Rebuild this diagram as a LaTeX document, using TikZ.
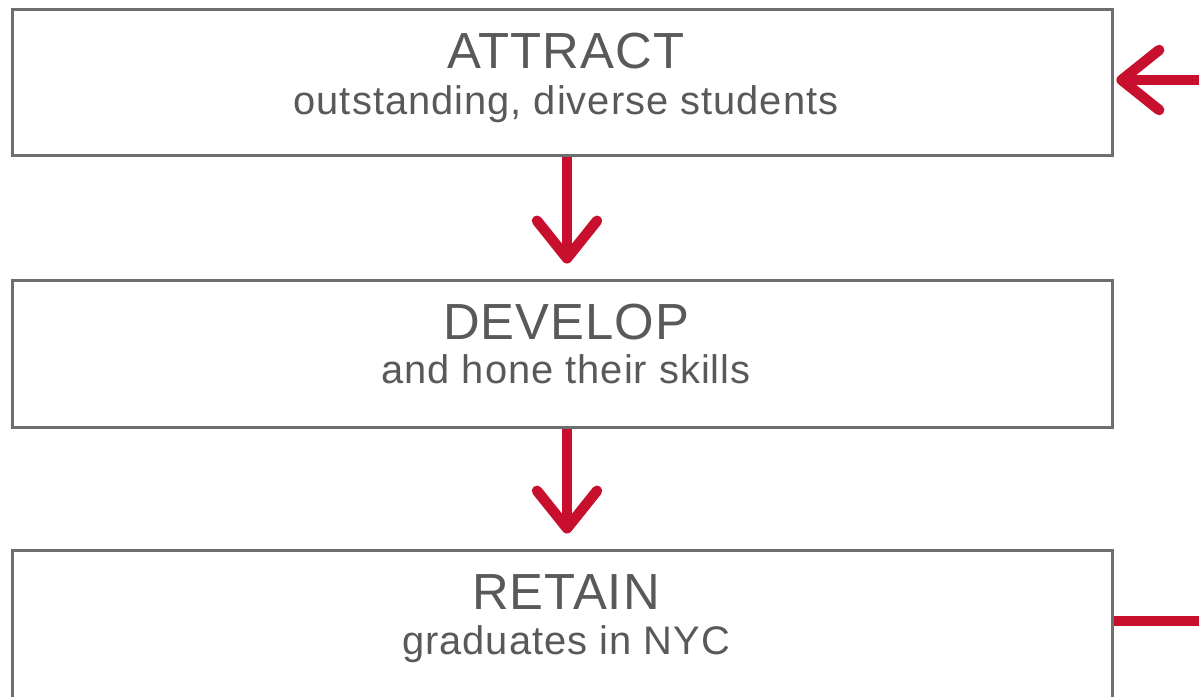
\documentclass[tikz,border=0pt]{standalone}
\usepackage{fontspec}
\setmainfont{Liberation Sans}
\usepackage{tikz}
\usepackage{xcolor}
\usetikzlibrary{arrows.meta}
\definecolor{boxgray}{HTML}{6D6E71}
\definecolor{textgray}{HTML}{58595B}
\definecolor{flowred}{HTML}{C8102E}

\begin{document}
\begin{tikzpicture}[x=0.02cm, y=-0.02cm,
    stage/.style={draw=boxgray, line width=0.06cm, minimum width=22.02cm, inner sep=0pt},
    headline/.style={text=textgray, anchor=base, inner sep=0pt, font=\fontsize{28.9}{30}\selectfont\addfontfeatures{LetterSpace=2}},
    subline/.style={text=textgray, anchor=base, inner sep=0pt, font=\fontsize{22.7}{24}\selectfont\addfontfeatures{LetterSpace=2.5}},
    flow/.style={draw=flowred, line width=0.21cm, -{Straight Barb[length=0.75cm, width=1.2cm, round]}},
    flowline/.style={draw=flowred, line width=0.21cm}]
  \useasboundingbox (0,0) rectangle (1199,696);
  \clip (0,0) rectangle (1199,696);
  % Boxes
  \node[stage, minimum height=2.94cm] (attract) at (562.5,82.5) {};
  \node[stage, minimum height=2.96cm] (develop) at (562.5,354) {};
  \node[stage, minimum height=4cm] (retain) at (562.5,650) {};
  % Texts
  \node[headline] (attractT) at (566,69) {ATTRACT};
  \node[subline] (attractS) at (566,114) {outstanding, diverse students};
  \node[headline] (developT) at (566,339) {DEVELOP};
  \node[subline] (developS) at (566,383) {and hone their skills};
  \node[headline] (retainT) at (566,609) {RETAIN};
  \node[subline] (retainS) at (566,654) {graduates in NYC};
  % Arrows
  \draw[flow] ([xshift=0.09cm]attract.south) -- ([xshift=0.09cm, yshift=0.3cm]develop.north);
  \draw[flow] ([xshift=0.09cm]develop.south) -- ([xshift=0.09cm, yshift=0.3cm]retain.north);
  \coordinate (loopA) at (1199,80);
  \coordinate (loopB) at (1199,621);
  \draw[flow] (loopA) -- ([xshift=0.04cm]attract.east |- loopA);
  \draw[flowline] (retain.east |- loopB) -- (loopB);
\end{tikzpicture}
\end{document}
